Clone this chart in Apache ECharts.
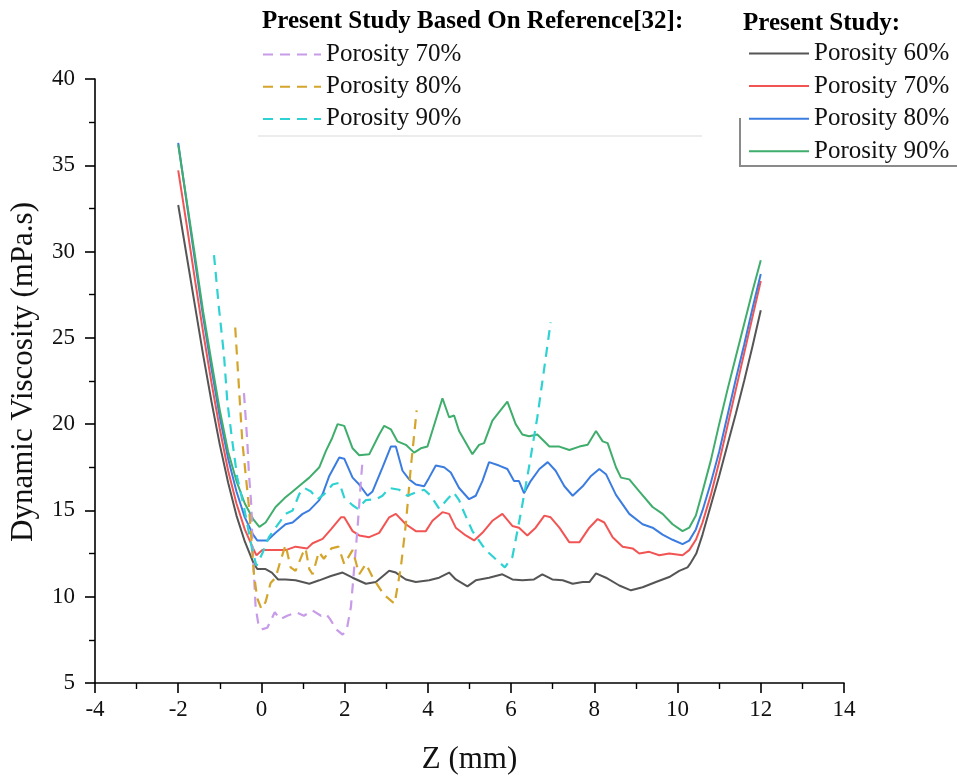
<!DOCTYPE html>
<html>
<head>
<meta charset="utf-8">
<script src="https://cdn.jsdelivr.net/npm/echarts@6/dist/echarts.min.js"></script>
<style>
  html, body { margin: 0; padding: 0; background: #ffffff; }
  #chart { width: 957px; height: 780px; }
</style>
</head>
<body>
<div id="chart"></div>
<script>
// ---------- Data ----------
const xTicks = [-4, -2, 0, 2, 4, 6, 8, 10, 12, 14];
const yTicks = [5, 10, 15, 20, 25, 30, 35, 40];

// Present Study, Porosity 60%
const z60 = [-2, -1.8, -1.6, -1.4, -1.2, -1.0, -0.8, -0.6, -0.4, -0.2, -0.1, 0.1, 0.25, 0.4, 0.58, 0.82, 1.15, 1.39, 1.67, 1.95, 2.19, 2.51, 2.75, 3.07, 3.23, 3.47, 3.71, 4.03, 4.27, 4.51, 4.67, 4.95, 5.15, 5.47, 5.79, 6.03, 6.27, 6.55, 6.75, 6.99, 7.24, 7.48, 7.72, 7.88, 8.04, 8.28, 8.6, 8.88, 9.16, 9.48, 9.8, 10.04, 10.24, 10.3, 10.45, 10.6, 10.8, 11.0, 11.2, 11.4, 11.6, 11.8, 12.0];
const v60 = [32.7, 29.8, 26.9, 24.0, 21.3, 18.8, 16.6, 14.7, 13.2, 12.0, 11.6, 11.6, 11.4, 11.0, 11.0, 10.95, 10.75, 10.95, 11.2, 11.4, 11.1, 10.75, 10.85, 11.5, 11.4, 11.0, 10.85, 10.95, 11.1, 11.4, 11.0, 10.6, 10.95, 11.1, 11.3, 11.0, 10.95, 11.0, 11.3, 11.0, 10.95, 10.75, 10.85, 10.85, 11.35, 11.1, 10.65, 10.37, 10.55, 10.85, 11.14, 11.5, 11.7, 11.9, 12.5, 13.6, 15.3, 17.0, 18.8, 20.6, 22.5, 24.5, 26.6];

// Present Study, Porosity 70%
const z70 = [-2, -1.8, -1.6, -1.4, -1.2, -1.0, -0.8, -0.6, -0.4, -0.2, -0.12, 0.02, 0.26, 0.58, 0.82, 1.1, 1.23, 1.47, 1.67, 1.91, 1.99, 2.19, 2.35, 2.59, 2.83, 3.07, 3.23, 3.47, 3.71, 3.95, 4.11, 4.35, 4.51, 4.67, 4.91, 5.11, 5.31, 5.55, 5.79, 6.03, 6.19, 6.39, 6.59, 6.8, 6.95, 7.16, 7.4, 7.64, 7.88, 8.08, 8.24, 8.44, 8.68, 8.92, 9.08, 9.32, 9.56, 9.8, 10.12, 10.28, 10.44, 10.6, 10.8, 11.0, 11.2, 11.4, 11.6, 11.8, 12.0];
const v70 = [34.7, 31.6, 28.4, 25.3, 22.4, 19.7, 17.3, 15.4, 13.9, 12.8, 12.4, 12.7, 12.7, 12.7, 12.9, 12.8, 13.1, 13.35, 13.9, 14.6, 14.6, 13.8, 13.55, 13.45, 13.7, 14.6, 14.8, 14.2, 13.8, 13.8, 14.4, 14.9, 14.8, 14.0, 13.55, 13.26, 13.7, 14.4, 14.8, 14.1, 14.0, 13.55, 14.0, 14.7, 14.6, 14.0, 13.15, 13.15, 14.0, 14.5, 14.3, 13.45, 12.9, 12.8, 12.5, 12.6, 12.4, 12.5, 12.4, 12.7, 13.3, 14.3, 15.9, 17.8, 19.9, 22.0, 24.1, 26.2, 28.3];

// Present Study, Porosity 80%
const z80 = [-2, -1.8, -1.6, -1.4, -1.2, -1.0, -0.8, -0.6, -0.4, -0.2, -0.1, 0.14, 0.34, 0.58, 0.75, 0.99, 1.15, 1.39, 1.47, 1.63, 1.87, 1.99, 2.19, 2.35, 2.55, 2.67, 2.91, 3.11, 3.23, 3.39, 3.55, 3.71, 3.91, 4.03, 4.19, 4.39, 4.55, 4.75, 4.99, 5.15, 5.31, 5.47, 5.71, 5.91, 6.07, 6.19, 6.31, 6.47, 6.68, 6.88, 7.07, 7.28, 7.48, 7.72, 7.92, 8.12, 8.28, 8.52, 8.84, 9.16, 9.4, 9.64, 9.88, 10.12, 10.28, 10.44, 10.6, 10.8, 11.0, 11.2, 11.4, 11.6, 11.8, 12.0];
const v80 = [36.3, 32.9, 29.5, 26.2, 23.2, 20.4, 18.0, 16.1, 14.6, 13.6, 13.26, 13.26, 13.7, 14.2, 14.3, 14.8, 15.0, 15.6, 15.95, 17.0, 18.07, 18.0, 16.9, 16.5, 15.85, 16.1, 17.5, 18.7, 18.7, 17.3, 16.8, 16.5, 16.4, 16.9, 17.6, 17.5, 17.2, 16.3, 15.65, 15.85, 16.7, 17.8, 17.6, 17.4, 16.7, 16.7, 16.0, 16.7, 17.4, 17.8, 17.3, 16.4, 15.85, 16.4, 17.0, 17.4, 17.1, 15.9, 14.8, 14.2, 14.0, 13.6, 13.3, 13.05, 13.25, 13.9, 15.0, 16.6, 18.4, 20.5, 22.6, 24.6, 26.7, 28.7];

// Present Study, Porosity 90%
const z90 = [-2, -1.8, -1.6, -1.4, -1.2, -1.0, -0.8, -0.6, -0.4, -0.2, -0.05, 0.1, 0.34, 0.55, 0.75, 0.95, 1.15, 1.39, 1.55, 1.7, 1.83, 1.99, 2.19, 2.35, 2.59, 2.83, 2.95, 3.11, 3.27, 3.47, 3.67, 3.83, 3.99, 4.35, 4.51, 4.63, 4.75, 5.07, 5.23, 5.35, 5.55, 5.91, 6.11, 6.27, 6.43, 6.63, 6.92, 7.16, 7.4, 7.64, 7.84, 8.04, 8.2, 8.32, 8.52, 8.64, 8.84, 9.08, 9.4, 9.64, 9.88, 10.12, 10.28, 10.44, 10.6, 10.8, 11.0, 11.2, 11.4, 11.6, 11.8, 12.0];
const v90 = [36.2, 33.0, 29.8, 26.5, 23.6, 20.8, 18.4, 16.7, 15.4, 14.5, 14.05, 14.3, 15.2, 15.7, 16.1, 16.5, 16.9, 17.5, 18.45, 19.2, 20.0, 19.9, 18.6, 18.2, 18.25, 19.4, 19.9, 19.7, 19.0, 18.8, 18.35, 18.6, 18.7, 21.5, 20.4, 20.5, 19.6, 18.26, 18.8, 18.9, 20.2, 21.3, 20.0, 19.4, 19.3, 19.4, 18.7, 18.7, 18.5, 18.7, 18.8, 19.6, 19.0, 18.9, 17.5, 16.9, 16.8, 16.1, 15.2, 14.8, 14.2, 13.8, 14.0, 14.7, 16.1, 17.9, 20.0, 22.0, 23.9, 25.8, 27.7, 29.5];

// Present Study Based On Reference[32], Porosity 70%
const zRef70 = [-0.42, -0.34, -0.3, -0.24, -0.22, -0.18, -0.14, -0.08, 0.0, 0.14, 0.22, 0.32, 0.45, 0.62, 0.84, 1.02, 1.23, 1.43, 1.55, 1.65, 1.8, 1.95, 2.05, 2.15, 2.23, 2.31, 2.39, 2.43];
const vRef70 = [21.8, 19.0, 17.1, 15.2, 13.3, 11.3, 9.4, 8.5, 8.1, 8.2, 8.6, 9.1, 8.7, 8.9, 9.1, 8.9, 9.2, 8.9, 9.0, 8.7, 8.1, 7.8, 8.1, 9.4, 11.7, 14.0, 16.7, 17.9];

// Present Study Based On Reference[32], Porosity 80%
const zRef80 = [-0.63, -0.55, -0.46, -0.38, -0.3, -0.24, -0.18, -0.1, 0.0, 0.1, 0.22, 0.34, 0.46, 0.58, 0.7, 0.82, 0.99, 1.06, 1.15, 1.23, 1.38, 1.5, 1.68, 1.85, 1.99, 2.19, 2.35, 2.51, 2.7, 2.95, 3.2, 3.35, 3.47, 3.59, 3.73];
const vRef80 = [25.6, 22.5, 19.0, 17.1, 15.2, 13.3, 11.3, 9.9, 9.3, 9.7, 10.8, 11.1, 12.1, 13.0, 11.7, 11.5, 12.5, 12.8, 11.6, 11.3, 12.6, 12.2, 12.8, 12.9, 11.9, 12.7, 11.3, 11.9, 11.0, 10.1, 9.6, 11.7, 14.2, 17.5, 20.8];

// Present Study Based On Reference[32], Porosity 90%
const zRef90 = [-1.14, -1.02, -0.9, -0.82, -0.7, -0.58, -0.42, -0.22, -0.12, 0.02, 0.18, 0.34, 0.58, 0.75, 0.91, 1.03, 1.19, 1.35, 1.51, 1.71, 1.87, 1.99, 2.19, 2.31, 2.51, 2.75, 2.91, 3.07, 3.31, 3.51, 3.71, 3.91, 4.07, 4.27, 4.45, 4.62, 4.75, 4.83, 5.07, 5.39, 5.85, 6.03, 6.23, 6.43, 6.63, 6.8, 6.95];
const vRef90 = [29.8, 26.7, 24.0, 21.3, 19.0, 16.9, 15.2, 12.7, 11.8, 12.5, 13.45, 14.0, 14.8, 15.0, 15.95, 16.3, 16.1, 15.65, 15.95, 16.5, 16.6, 15.75, 15.3, 15.1, 15.6, 15.65, 15.85, 16.3, 16.2, 15.85, 16.05, 16.2, 15.85, 15.1, 15.6, 16.05, 15.6, 15.1, 13.8, 12.7, 11.7, 12.3, 14.8, 17.5, 20.4, 23.3, 25.9];

const refLabels = ['Porosity 70%', 'Porosity 80%', 'Porosity 90%'];
const psLabels = ['Porosity 60%', 'Porosity 70%', 'Porosity 80%', 'Porosity 90%'];

// ---------- Chart ----------
const zip = (xs, ys) => xs.map((x, i) => [x, ys[i]]);
const FONT = '"Liberation Serif", "Times New Roman", serif';

const displayName = {
  ref70: refLabels[0], ref80: refLabels[1], ref90: refLabels[2],
  ps60: psLabels[0], ps70: psLabels[1], ps80: psLabels[2], ps90: psLabels[3]
};

function lineSeries(id, data, color, dashed) {
  return {
    name: id,
    type: 'line',
    data: data,
    symbol: 'none',
    smooth: false,
    z: dashed ? 3 : 2,
    lineStyle: { color: color, width: dashed ? 2.2 : 2, type: dashed ? [10, 7] : 'solid' },
    itemStyle: { color: color },
    emphasis: { disabled: true }
  };
}

const chart = echarts.init(document.getElementById('chart'), null, { renderer: 'canvas' });

const legendCommon = {
  orient: 'vertical',
  padding: 0,
  itemHeight: 20,
  itemStyle: { opacity: 0 },
  formatter: n => displayName[n],
  textStyle: { fontFamily: FONT, fontSize: 25, color: '#111', lineHeight: 25 },
  selectedMode: false
};

const option = {
  backgroundColor: '#ffffff',
  animation: false,
  grid: { left: 92, right: 113, top: 79, bottom: 97, containLabel: false },
  xAxis: {
    type: 'value',
    min: xTicks[0], max: xTicks[xTicks.length - 1], interval: 2,
    name: 'Z (mm)',
    nameLocation: 'middle',
    nameGap: 61,
    nameTextStyle: { fontFamily: FONT, fontSize: 31, color: '#111' },
    axisLine: { show: true, onZero: false, lineStyle: { color: '#000', width: 1.6 } },
    axisTick: { show: true, inside: false, length: 10, lineStyle: { color: '#000', width: 1.6 } },
    minorTick: { show: true, splitNumber: 2, length: 6, lineStyle: { color: '#000', width: 1.4 } },
    axisLabel: { fontFamily: FONT, fontSize: 23, color: '#111', margin: 15 },
    splitLine: { show: false }
  },
  yAxis: {
    type: 'value',
    min: yTicks[0], max: yTicks[yTicks.length - 1], interval: 5,
    name: 'Dynamic Viscosity (mPa.s)',
    nameLocation: 'middle',
    nameGap: 56,
    nameTextStyle: { fontFamily: FONT, fontSize: 31, color: '#111', padding: [0, 0, 0, 18] },
    axisLine: { show: true, onZero: false, lineStyle: { color: '#000', width: 1.6 } },
    axisTick: { show: true, inside: false, length: 10, lineStyle: { color: '#000', width: 1.6 } },
    minorTick: { show: true, splitNumber: 2, length: 6, lineStyle: { color: '#000', width: 1.4 } },
    axisLabel: { fontFamily: FONT, fontSize: 23, color: '#111', margin: 20 },
    splitLine: { show: false }
  },
  legend: [
    Object.assign({}, legendCommon, {
      left: 262, top: 42,
      itemWidth: 58, itemGap: 7.2,
      data: ['ref70', 'ref80', 'ref90']
    }),
    Object.assign({}, legendCommon, {
      left: 748, top: 41,
      itemWidth: 60, itemGap: 7.6,
      data: ['ps60', 'ps70', 'ps80', 'ps90']
    })
  ],
  graphic: [
    {
      type: 'text', left: 262, top: 9,
      style: { text: 'Present Study Based On Reference[32]:', font: 'bold 25px ' + FONT, fill: '#000' }
    },
    {
      type: 'text', left: 743, top: 11,
      style: { text: 'Present Study:', font: 'bold 25px ' + FONT, fill: '#000' }
    },
    {
      type: 'line', shape: { x1: 258, y1: 136, x2: 702, y2: 136 },
      style: { stroke: '#ececec', lineWidth: 2 }
    },
    {
      type: 'polyline', shape: { points: [[740, 118], [740, 166], [957, 166]] },
      style: { stroke: '#8a8a8a', lineWidth: 2, fill: null }
    }
  ],
  series: [
    lineSeries('ps60', zip(z60, v60), '#555555', false),
    lineSeries('ps70', zip(z70, v70), '#f25454', false),
    lineSeries('ps80', zip(z80, v80), '#3b7ce0', false),
    lineSeries('ps90', zip(z90, v90), '#3fad6c', false),
    lineSeries('ref70', zip(zRef70, vRef70), '#c89be9', true),
    lineSeries('ref80', zip(zRef80, vRef80), '#d4a52a', true),
    lineSeries('ref90', zip(zRef90, vRef90), '#2fd2d2', true)
  ]
};

chart.setOption(option);
</script>
</body>
</html>
